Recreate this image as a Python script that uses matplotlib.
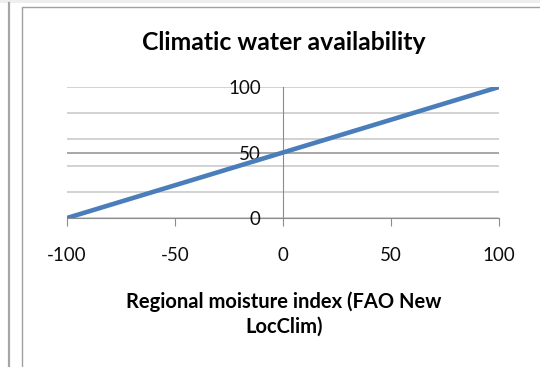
import matplotlib
matplotlib.use("Agg")
import matplotlib.pyplot as plt
from matplotlib.lines import Line2D
from matplotlib.patches import Rectangle

# data
moisture_index = [-100, 100]
water_avail = [0, 100]
x_ticks = [-100, -50, 0, 50, 100]
y_ticks = [0, 50, 100]
minor_grid = [0, 20, 40, 60, 80, 100]

plt.rcParams['font.family'] = ['Lato', 'DejaVu Sans']

W, H = 540, 367
fig = plt.figure(figsize=(W / 100, H / 100), dpi=100)

# frame bits around the chart (screenshot edges)
fig.add_artist(Rectangle((0, 1 - 3 / H), 1, 3 / H, transform=fig.transFigure,
                         color='#eeeeee', lw=0))
fig.add_artist(Line2D([8.5 / W, 8.5 / W], [0, 1 - 3 / H], transform=fig.transFigure,
                      color='#a6a6a6', lw=1.6))
fig.add_artist(Line2D([21.5 / W, 21.5 / W, 1], [0, 1 - 7 / H, 1 - 7 / H],
                      transform=fig.transFigure, color='#a0a0a0', lw=1.0))

ax = fig.add_axes([67 / W, 1 - 218 / H, 432 / W, 131 / H])
ax.set_xlim(-100, 100)
ax.set_ylim(0, 100)

# gridlines
for g in minor_grid:
    ax.axhline(g, color='#cfcfcf', lw=1.3, zorder=1)
ax.axhline(50, color='#a0a0a0', lw=1.3, zorder=1)

ax.plot(moisture_index, water_avail, color='#4a7ebb', lw=3.3,
        solid_capstyle='butt', zorder=3)

for s in ['top', 'right']:
    ax.spines[s].set_visible(False)
ax.spines['left'].set_position(('data', 0))
ax.spines['bottom'].set_position(('data', 0))
ax.spines['left'].set_color('#8c8c8c')
ax.spines['bottom'].set_color('#8c8c8c')
ax.spines['left'].set_zorder(2)

ax.set_xticks(x_ticks)
ax.set_yticks(y_ticks)
ax.set_xticklabels([str(v) for v in x_ticks])
ax.set_yticklabels([str(v) for v in y_ticks])
ax.tick_params(axis='x', direction='out', length=6, color='#8c8c8c',
               labelsize=13.5, pad=15, labelcolor='#0d0d0d')
ax.tick_params(axis='y', length=0, labelsize=13.5, pad=16, labelcolor='#0d0d0d')
for lab in ax.get_yticklabels():
    lab.set_zorder(0)
ax.set_axisbelow(False)

fig.text(284 / W, 1 - 42 / H, 'Climatic water availability', ha='center', va='center',
         fontsize=17.8, fontweight='bold', color='#000000')
fig.text(284 / W, 1 - 302 / H, 'Regional moisture index (FAO New',
         ha='center', va='center', fontsize=14.5, fontweight='bold', color='#000000')
fig.text(284 / W, 1 - 327 / H, 'LocClim)',
         ha='center', va='center', fontsize=14.5, fontweight='bold', color='#000000')

fig.savefig('out.png', dpi=100)
